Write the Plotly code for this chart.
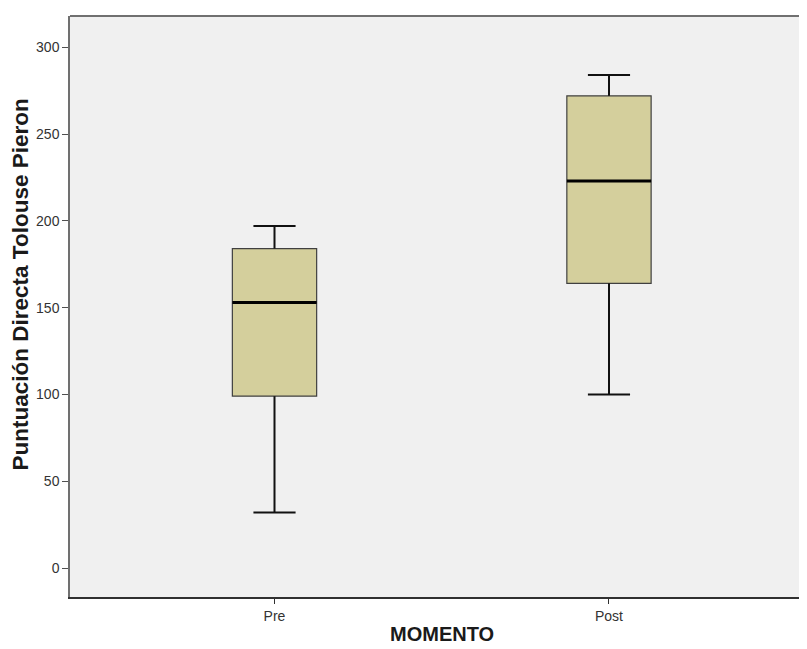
import plotly.graph_objects as go

categories = ["Pre", "Post"]
lower_whisker = [32, 100]
q1 = [99, 164]
median = [153, 223]
q3 = [184, 272]
upper_whisker = [197, 284]
y_ticks = [0, 50, 100, 150, 200, 250, 300]

xpos = list(range(len(categories)))
box_w = 0.252
cap_w = 0.063

fig = go.Figure()
fig.add_trace(go.Box(
    x=xpos, q1=q1, median=median, q3=q3,
    lowerfence=q1, upperfence=q3,
    width=box_w, fillcolor="#d4cf9c",
    line=dict(color="#404040", width=1.2),
    boxpoints=False, showlegend=False, hoverinfo="skip",
))

# whiskers
wx, wy = [], []
for i, x in enumerate(xpos):
    wx += [x, x, None, x, x, None,
           x - cap_w, x + cap_w, None, x - cap_w, x + cap_w, None]
    wy += [q3[i], upper_whisker[i], None, q1[i], lower_whisker[i], None,
           upper_whisker[i], upper_whisker[i], None, lower_whisker[i], lower_whisker[i], None]
fig.add_trace(go.Scatter(x=wx, y=wy, mode="lines", line=dict(color="#111111", width=2),
                         showlegend=False, hoverinfo="skip"))

# medians
mx, my = [], []
for i, x in enumerate(xpos):
    mx += [x - box_w / 2, x + box_w / 2, None]
    my += [median[i], median[i], None]
fig.add_trace(go.Scatter(x=mx, y=my, mode="lines", line=dict(color="#000000", width=3),
                         showlegend=False, hoverinfo="skip"))

# the page body has an 8px margin: size the figure to compensate
fig.update_layout(
    width=799, height=641,
    margin=dict(l=62, r=0, t=7.5, b=52.3),
    paper_bgcolor="white", plot_bgcolor="#f0f0f0",
    font=dict(family="Liberation Sans, Arial, sans-serif", color="#333333"),
    xaxis=dict(range=[-0.6114, 1.592], tickvals=xpos, ticktext=categories,
               showgrid=False, zeroline=False, showline=True, linecolor="#303030", linewidth=2,
               ticks="outside", ticklen=5, tickcolor="#303030", tickwidth=1,
               tickfont=dict(size=14, color="#333333")),
    yaxis=dict(range=[-16.7, 318], tickvals=y_ticks,
               showgrid=False, zeroline=False, showline=True, linecolor="#707070", linewidth=1.5,
               ticks="outside", ticklen=6, tickcolor="#505050", tickwidth=1,
               tickfont=dict(size=14, color="#333333")),
    shapes=[dict(type="line", xref="paper", yref="paper", x0=0, x1=1, y0=1, y1=1,
                 line=dict(color="#707070", width=2))],
    annotations=[
        dict(text="<b>Puntuación Directa Tolouse Pieron</b>", xref="paper", yref="paper",
             x=-0.0678, y=0.538, textangle=-90, showarrow=False, xanchor="center", yanchor="middle",
             font=dict(size=22.5, color="#1a1a1a")),
        dict(text="<b>MOMENTO</b>", xref="paper", yref="paper", x=0.505, y=-0.064,
             showarrow=False, xanchor="center", yanchor="middle",
             font=dict(size=20, color="#1a1a1a")),
    ],
)

fig.write_html("out.html")
